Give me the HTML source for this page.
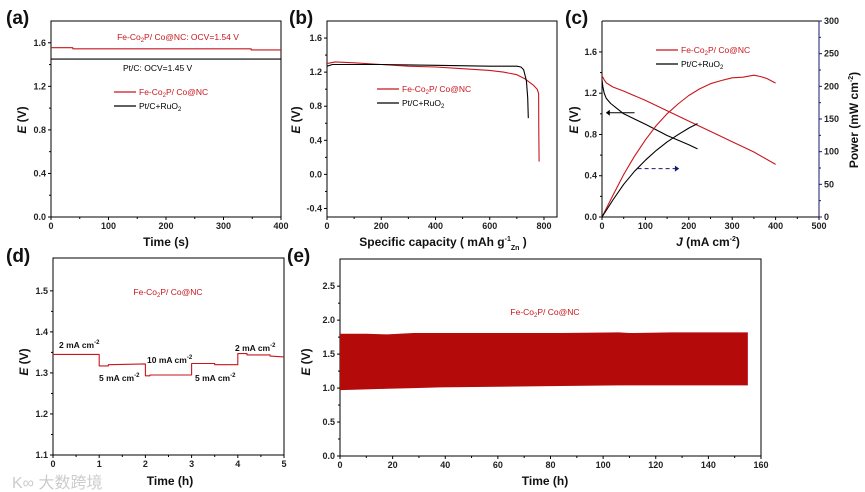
<!DOCTYPE html>
<html><head><meta charset="utf-8">
<style>
html,body{margin:0;padding:0;background:#fff;}
svg{display:block;font-family:"Liberation Sans",Arial,sans-serif;}
.tk{font-size:9px;font-weight:bold;fill:#222;}
.at{font-size:12px;font-weight:bold;fill:#111;}
.pl{font-size:19px;font-weight:bold;fill:#111;}
.lg{font-size:8.5px;}
</style></head>
<body>
<svg id="fig" width="865" height="492" viewBox="0 0 865 492" xmlns="http://www.w3.org/2000/svg">
<text x="6" y="24" class="pl">(a)</text>
<text x="289" y="24" class="pl">(b)</text>
<text x="565" y="24" class="pl">(c)</text>
<text x="6" y="262" class="pl">(d)</text>
<text x="287" y="262" class="pl">(e)</text>
<text x="12" y="488" style="font-size:16px;fill:#ccc;font-family:'Liberation Sans','Noto Sans CJK SC',sans-serif">K∞ 大数跨境</text>
</svg>
<script>
// Panel a
const aTime=[0,38,38,348,348,400];
const aFe=[1.555,1.555,1.545,1.545,1.535,1.535];
const aPtTime=[0,400];
const aPt=[1.45,1.45];
const aXTicks=[0,100,200,300,400];
const aYTicks=[0.0,0.4,0.8,1.2,1.6];
// Panel b
const bCapFe=[0,30,100,200,300,400,500,600,650,700,730,760,775,780,781,782];
const bFe=[1.30,1.32,1.31,1.29,1.27,1.26,1.24,1.22,1.20,1.17,1.12,1.05,1.00,0.95,0.5,0.15];
const bCapPt=[0,20,200,400,600,700,715,725,735,740,742];
const bPt=[1.27,1.29,1.29,1.28,1.27,1.27,1.26,1.23,1.10,0.90,0.66];
const bXTicks=[0,200,400,600,800];
const bYTicks=[-0.4,0.0,0.4,0.8,1.2,1.6];
// Panel c
const cJFe=[0,5,10,25,50,100,150,200,250,300,350,400];
const cEFe=[1.37,1.33,1.30,1.26,1.22,1.13,1.03,0.93,0.83,0.73,0.63,0.51];
const cJPt=[0,2,5,10,20,35,50,75,100,150,200,220];
const cEPt=[1.33,1.26,1.20,1.15,1.10,1.05,1.00,0.95,0.90,0.79,0.70,0.66];
const cPJFe=[0,25,50,75,100,125,150,175,200,225,250,275,300,325,350,365,380,400];
const cPFe=[0,33,65,93,118,140,158,173,186,196,204,209,213,214,217,215,212,205];
const cPJPt=[0,25,50,75,100,125,150,175,200,220];
const cPPt=[0,26,50,70,87,102,115,126,136,143];
const cXTicks=[0,100,200,300,400,500];
const cYTicks=[0.0,0.4,0.8,1.2,1.6];
const cPTicks=[0,50,100,150,200,250,300];
// Panel d
const dTime=[0,1,1,1.2,1.2,2,2,2.1,2.1,3,3,3.5,3.5,4,4,4.2,4.2,4.7,4.7,5];
const dE=[1.345,1.345,1.317,1.317,1.32,1.322,1.293,1.293,1.295,1.295,1.323,1.323,1.32,1.32,1.347,1.347,1.344,1.344,1.341,1.339];
const dXTicks=[0,1,2,3,4,5];
const dYTicks=[1.1,1.2,1.3,1.4,1.5];
// Panel e
const eTime=[0,10,18,28,38,60,84,106,110,126,155];
const eUpper=[1.80,1.80,1.79,1.81,1.81,1.81,1.81,1.82,1.81,1.82,1.82];
const eLower=[0.97,0.98,0.99,1.00,1.01,1.02,1.03,1.04,1.04,1.04,1.04];
const eXTicks=[0,20,40,60,80,100,120,140,160];
const eYTicks=[0.0,0.5,1.0,1.5,2.0,2.5];

const svg=document.getElementById('fig');
const NS='http://www.w3.org/2000/svg';
function mk(tag,attrs,parent){const e=document.createElementNS(NS,tag);for(const k in attrs)e.setAttribute(k,attrs[k]);(parent||svg).appendChild(e);return e;}
function scale(d0,d1,r0,r1){return v=>r0+(v-d0)/(d1-d0)*(r1-r0);}
function txt(x,y,s,cls,anchor,name,fill){const t=mk('text',{x:x,y:y,class:cls,'text-anchor':anchor||'start'});if(fill)t.setAttribute('fill',fill);t.innerHTML=s;
return t;}
function axes(name,L,R,T,B,xs,ys,xt,yt,fmtY){
  const g=mk('g',{});
  
  
  mk('rect',{x:L,y:T,width:R-L,height:B-T,fill:'none',stroke:'#000','stroke-width':1},g);
  xt.forEach((v,i)=>{const x=xs(v);mk('line',{x1:x,x2:x,y1:B,y2:B+3,stroke:'#000'},g);
    if(i<xt.length-1){const xm=xs((v+xt[i+1])/2);mk('line',{x1:xm,x2:xm,y1:B,y2:B+2,stroke:'#000'},g);}
    const t=txt(x,B+12,String(v),'tk','middle',name+'-x-tick');g.appendChild(t);});
  yt.forEach((v,i)=>{const y=ys(v);mk('line',{x1:L-3,x2:L,y1:y,y2:y,stroke:'#000'},g);
    if(i<yt.length-1){const ym=ys((v+yt[i+1])/2);mk('line',{x1:L-2,x2:L,y1:ym,y2:ym,stroke:'#000'},g);}
    const t=txt(L-5,y+3,fmtY(v),'tk','end',name+'-y-tick');g.appendChild(t);});
  return g;
}
function line(xs,ys,X,Y,color,name,dash){const p=X.map((v,i)=>xs(v).toFixed(1)+','+ys(Y[i]).toFixed(1)).join(' ');
  const e=mk('polyline',{points:p,fill:'none',stroke:color,'stroke-width':1.1,'stroke-linejoin':'round'});if(dash)e.setAttribute('stroke-dasharray',dash);
  
  return e;}
const f1=v=>v.toFixed(1);
const RED='#c8161d';
function legend(x,y,name){
  mk('line',{x1:x,x2:x+22,y1:y,y2:y,stroke:RED,'stroke-width':1.2});
  txt(x+25,y+3,'Fe-Co<tspan font-size="6" dy="2">2</tspan><tspan dy="-2">P/ Co@NC</tspan>','lg','start',name+'-legend-fe',RED);
  mk('line',{x1:x,x2:x+22,y1:y+14,y2:y+14,stroke:'#000','stroke-width':1.2});
  txt(x+25,y+17,'Pt/C+RuO<tspan font-size="6" dy="2">2</tspan>','lg','start',name+'-legend-pt','#000');
}
const feLabel='Fe-Co<tspan font-size="6" dy="2">2</tspan><tspan dy="-2">P/ Co@NC</tspan>';

// a
{const xs=scale(0,400,51,281),ys=scale(0,1.8,217,21);
axes('panel-a',51,281,21,217,xs,ys,aXTicks,aYTicks,f1);
line(xs,ys,aTime,aFe,RED,'fe-ocv-line');line(xs,ys,aPtTime,aPt,'#000','pt-ocv-line');
txt(178,40,'Fe-Co<tspan font-size="6" dy="2">2</tspan><tspan dy="-2">P/ Co@NC: OCV=1.54 V</tspan>','lg','middle','fe-ocv-label',RED);
txt(123,71,'Pt/C: OCV=1.45 V','lg','start','pt-ocv-label','#000');
legend(114,92,'panel-a');
txt(166,246,'Time (s)','at','middle','panel-a-x-title');
const t=txt(0,0,'<tspan font-style="italic">E</tspan> (V)','at','middle','panel-a-y-title');t.setAttribute('transform','translate(26,120) rotate(-90)');}
// b
{const xs=scale(0,848,327,557),ys=scale(-0.5,1.8,217,21);
axes('panel-b',327,557,21,217,xs,ys,bXTicks,bYTicks,f1);
line(xs,ys,bCapFe,bFe,RED,'fe-discharge-line');line(xs,ys,bCapPt,bPt,'#000','pt-discharge-line');
legend(377,89,'panel-b');
txt(443,246,'Specific capacity ( mAh g<tspan font-size="7" dy="-5">-1</tspan><tspan font-size="7" dy="9">Zn</tspan><tspan dy="-4"> )</tspan>','at','middle','panel-b-x-title');
const t=txt(0,0,'<tspan font-style="italic">E</tspan> (V)','at','middle','panel-b-y-title');t.setAttribute('transform','translate(300,120) rotate(-90)');}
// c
{const xs=scale(0,500,602,819),ys=scale(0,1.9,217,21),ps=scale(0,300,217,21);
const g=axes('panel-c',602,819,21,217,xs,ys,cXTicks,cYTicks,f1);
g.querySelector('rect').setAttribute('stroke-width',0);
mk('line',{x1:602,x2:602,y1:21,y2:217,stroke:'#000'});mk('line',{x1:602,x2:819,y1:217,y2:217,stroke:'#000'});mk('line',{x1:602,x2:819,y1:21,y2:21,stroke:'#000'});
mk('line',{x1:819,x2:819,y1:21,y2:217,stroke:'#1a1a6e'});
cPTicks.forEach((v,i)=>{const y=ps(v);mk('line',{x1:819,x2:822,y1:y,y2:y,stroke:'#1a1a6e'});
  if(i<cPTicks.length-1){const ym=ps(v+25);mk('line',{x1:819,x2:821,y1:ym,y2:ym,stroke:'#1a1a6e'});}
  txt(824,y+3,String(v),'tk','start','panel-c-power-tick','#1a1a6e');});
line(xs,ys,cJFe,cEFe,RED,'fe-polarization-line');line(xs,ys,cJPt,cEPt,'#000','pt-polarization-line');
line(xs,ps,cPJFe,cPFe,RED,'fe-power-line');line(xs,ps,cPJPt,cPPt,'#000','pt-power-line');
legend(656,50,'panel-c');
mk('line',{x1:xs(75),x2:xs(12),y1:ys(1.01),y2:ys(1.01),stroke:'#000'});
mk('polygon',{points:`${xs(9)},${ys(1.01)} ${xs(18)},${ys(1.01)-3} ${xs(18)},${ys(1.01)+3}`,fill:'#000'});
mk('line',{x1:xs(82),x2:xs(170),y1:ps(74),y2:ps(74),stroke:'#1a1a6e','stroke-dasharray':'4,3'});
mk('polygon',{points:`${xs(178)},${ps(74)} ${xs(168)},${ps(74)-3} ${xs(168)},${ps(74)+3}`,fill:'#1a1a6e'});
txt(708,246,'<tspan font-style="italic">J</tspan> (mA cm<tspan font-size="7" dy="-5">-2</tspan><tspan dy="5">)</tspan>','at','middle','panel-c-x-title');
let t=txt(0,0,'<tspan font-style="italic">E</tspan> (V)','at','middle','panel-c-y-title');t.setAttribute('transform','translate(578,120) rotate(-90)');
t=txt(0,0,'Power (mW cm<tspan font-size="7" dy="-5">-2</tspan><tspan dy="5">)</tspan>','at','middle','panel-c-y2-title','#1a1a6e');t.setAttribute('transform','translate(858,120) rotate(-90)');}
// d
{const xs=scale(0,5,53,284),ys=scale(1.1,1.58,455,258);
axes('panel-d',53,284,258,455,xs,ys,dXTicks,dYTicks,f1);
line(xs,ys,dTime,dE,RED,'fe-rate-line');
txt(168,295,feLabel,'lg','middle','panel-d-series-label',RED);
const lab=[[59,348,'2 mA cm'],[99,381,'5 mA cm'],[147,363,'10 mA cm'],[195,381,'5 mA cm'],[235,351,'2 mA cm']];
lab.forEach(l=>txt(l[0],l[1],l[2]+'<tspan font-size="6" dy="-4">-2</tspan>','lg','start','current-density-label','#111').setAttribute('font-weight','bold'));
txt(170,485,'Time (h)','at','middle','panel-d-x-title');
const t=txt(0,0,'<tspan font-style="italic">E</tspan> (V)','at','middle','panel-d-y-title');t.setAttribute('transform','translate(28,362) rotate(-90)');}
// e
{const xs=scale(0,160,340,761),ys=scale(0,2.9,456,259);
axes('panel-e',340,761,259,456,xs,ys,eXTicks,eYTicks,f1);
const pts=eTime.map((v,i)=>xs(v)+','+ys(eUpper[i])).concat(eTime.slice().reverse().map((v,i)=>xs(v)+','+ys(eLower[eLower.length-1-i])));
const p=mk('polygon',{points:pts.join(' '),fill:'#b50a0a'});


txt(545,315,feLabel,'lg','middle','panel-e-series-label',RED);
txt(545,485,'Time (h)','at','middle','panel-e-x-title');
const t=txt(0,0,'<tspan font-style="italic">E</tspan> (V)','at','middle','panel-e-y-title');t.setAttribute('transform','translate(310,362) rotate(-90)');}
</script>
</body></html>
